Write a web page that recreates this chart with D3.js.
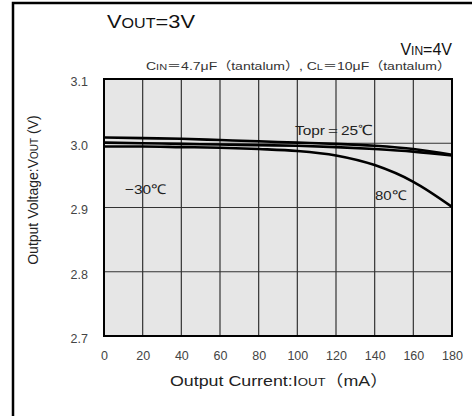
<!DOCTYPE html>
<html><head><meta charset="utf-8">
<script src="https://cdn.jsdelivr.net/npm/d3@7"></script>
<style>
body{margin:0;background:#fff;}
text{font-family:"Liberation Sans",Arial,Helvetica,sans-serif;}
.cjk{font-family:"Noto Sans CJK JP","Liberation Sans",sans-serif;}
</style></head>
<body><svg id="c" width="472" height="416"></svg>
<script>
const xTicks = [0,20,40,60,80,100,120,140,160,180];
const yTicks = [2.7,2.8,2.9,3.0,3.1];
const current = [0,20,40,60,80,100,120,140,160,180];
const vMinus30 = [3.009,3.008,3.007,3.005,3.003,3.001,2.999,2.996,2.991,2.982];
const v25      = [3.001,3.000,2.999,2.998,2.997,2.996,2.994,2.991,2.987,2.981];
const v80      = [2.995,2.995,2.994,2.993,2.991,2.988,2.981,2.966,2.940,2.901];

const svg = d3.select("#c");
const L=104,R=452,T=79,B=336;
const x = d3.scaleLinear().domain([0,180]).range([L,R]);
const y = d3.scaleLinear().domain([2.7,3.1]).range([B,T]);

// outer frame
svg.append("rect").attr("x",13).attr("y",3).attr("width",480).attr("height",440)
  .attr("fill","none").attr("stroke","#000").attr("stroke-width",2.5);

svg.append("rect").attr("x",L).attr("y",T).attr("width",R-L).attr("height",B-T)
  .attr("fill","#e6e6e6");

// grid
svg.append("g").selectAll("line").data(xTicks.slice(1,-1)).join("line")
  .attr("x1",d=>x(d)).attr("x2",d=>x(d)).attr("y1",T).attr("y2",B)
  .attr("stroke","#333").attr("stroke-width",1.2);
svg.append("g").selectAll("line").data(yTicks.slice(1,-1)).join("line")
  .attr("y1",d=>y(d)).attr("y2",d=>y(d)).attr("x1",L).attr("x2",R)
  .attr("stroke","#333").attr("stroke-width",1.2);

const xa = svg.append("g").attr("transform",`translate(0,${B})`)
  .call(d3.axisBottom(x).tickValues(xTicks).tickSize(0).tickPadding(15).tickFormat(d3.format("d")));
xa.select(".domain").remove();
xa.selectAll("text").attr("font-size",12.5).attr("fill","#444").attr("font-family","Liberation Sans, Arial, sans-serif");
const ya = svg.append("g").attr("transform",`translate(${L},0)`)
  .call(d3.axisLeft(y).tickValues(yTicks).tickSize(0).tickPadding(16).tickFormat(d3.format(".1f")));
ya.select(".domain").remove();
ya.selectAll("text").attr("font-size",12.5).attr("fill","#444").attr("dy","0.5em").attr("font-family","Liberation Sans, Arial, sans-serif");

// curves
const line = d3.line().x((d,i)=>x(current[i])).y(d=>y(d)).curve(d3.curveMonotoneX);
[vMinus30,v25,v80].forEach(s=>{
  svg.append("path").attr("d",line(s)).attr("fill","none").attr("stroke","#000").attr("stroke-width",2.6);
});

// border
svg.append("rect").attr("x",L).attr("y",T).attr("width",R-L).attr("height",B-T)
  .attr("fill","none").attr("stroke","#000").attr("stroke-width",2);

// titles
const t1 = svg.append("text").attr("x",107).attr("y",28).attr("font-size",19).attr("fill","#111")
  .attr("textLength",88).attr("lengthAdjust","spacingAndGlyphs");
t1.append("tspan").text("V");
t1.append("tspan").attr("font-size",14).text("OUT");
t1.append("tspan").text("=3V");

const t2 = svg.append("text").attr("x",452).attr("y",55).attr("text-anchor","end").attr("font-size",16).attr("fill","#111");
t2.append("tspan").text("V");
t2.append("tspan").attr("font-size",12).text("IN");
t2.append("tspan").text("=4V");

const t3 = svg.append("text").attr("x",146).attr("y",70).attr("font-size",11.5).attr("fill","#333")
  .attr("textLength",305).attr("lengthAdjust","spacingAndGlyphs");
t3.append("tspan").text("C");
t3.append("tspan").attr("font-size",9).text("IN");
t3.append("tspan").attr("class","cjk").text("＝");
t3.append("tspan").text("4.7μF");
t3.append("tspan").attr("class","cjk").text("（");
t3.append("tspan").text("tantalum");
t3.append("tspan").attr("class","cjk").text("）");
t3.append("tspan").text(", C");
t3.append("tspan").attr("font-size",9).text("L");
t3.append("tspan").attr("class","cjk").text("＝");
t3.append("tspan").text("10μF");
t3.append("tspan").attr("class","cjk").text("（");
t3.append("tspan").text("tantalum");
t3.append("tspan").attr("class","cjk").text("）");

const xt = svg.append("text").attr("x",170).attr("y",386).attr("font-size",15.5).attr("fill","#222")
  .attr("textLength",218).attr("lengthAdjust","spacingAndGlyphs");
xt.append("tspan").text("Output Current:I");
xt.append("tspan").attr("font-size",11.5).text("OUT");
xt.append("tspan").attr("class","cjk").text("（");
xt.append("tspan").text("mA");
xt.append("tspan").attr("class","cjk").text("）");

const yt = svg.append("text").attr("transform","translate(38,190) rotate(-90)").attr("text-anchor","middle")
  .attr("font-size",14).attr("fill","#222");
yt.append("tspan").text("Output Voltage:V");
yt.append("tspan").attr("font-size",10).text("OUT");
yt.append("tspan").text(" (V)");

// series labels
svg.append("text").attr("x",125).attr("y",194).attr("font-size",13.5).attr("fill","#222")
  .attr("textLength",41).attr("lengthAdjust","spacingAndGlyphs").text("−30℃");
svg.append("text").attr("x",295).attr("y",135).attr("font-size",13.5).attr("fill","#222")
  .attr("textLength",78).attr("lengthAdjust","spacingAndGlyphs").text("Topr＝25℃");
svg.append("text").attr("x",375).attr("y",200).attr("font-size",13.5).attr("fill","#222")
  .attr("textLength",31).attr("lengthAdjust","spacingAndGlyphs").text("80℃");
</script></body></html>
